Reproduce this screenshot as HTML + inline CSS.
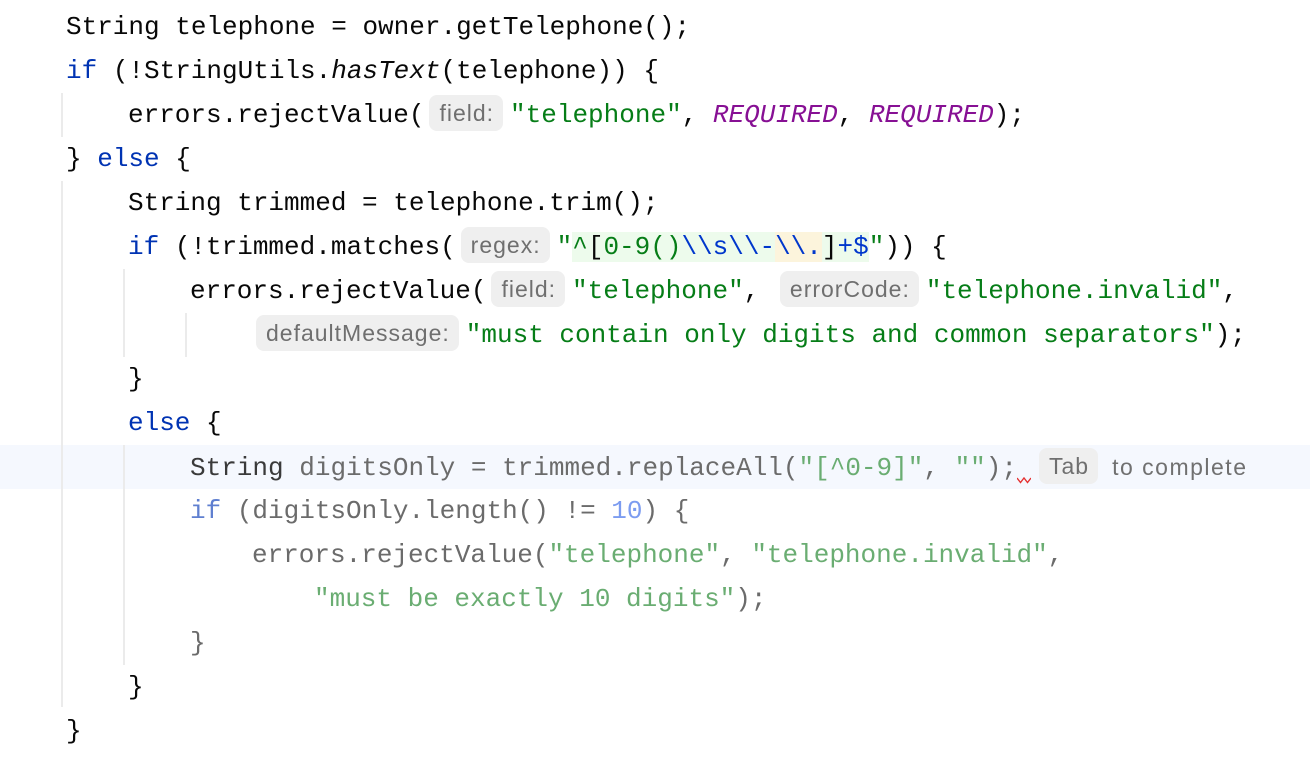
<!DOCTYPE html>
<html><head><meta charset="utf-8">
<style>
html,body{margin:0;padding:0;background:#fff;}
body{width:1310px;height:760px;position:relative;overflow:hidden;}
.l{position:absolute;left:0;height:44px;line-height:44px;white-space:pre;font-family:"Liberation Mono",monospace;font-size:26px;color:#080808;}
.k{color:#0033b3;}
.s{color:#067d17;}
.c{color:#871094;font-style:italic;}
.i{font-style:italic;}
.h{display:inline-block;font-family:"Liberation Sans",sans-serif;font-size:23px;letter-spacing:1px;color:#6f6f6f;background:#efefef;border-radius:8px;height:36px;line-height:36px;padding:0 9px 0 10px;margin:0 7px 0 5px;vertical-align:1px;}
.g{color:#6b6b6b;}
.gk{color:#5f7fd0;}
.gs{color:#6aad72;}
.gn{color:#7c9cf0;}
.rb{color:#0037cc;}
.vg{position:absolute;width:2px;background:#ebebeb;}
</style></head><body>
<div style="position:absolute;left:0;top:445px;width:1310px;height:44px;background:#f5f8fe;"></div>
<div class="vg" style="left:61px;top:93px;height:44px;"></div>
<div class="vg" style="left:61px;top:181px;height:526px;"></div>
<div class="vg" style="left:123px;top:269px;height:88px;"></div>
<div class="vg" style="left:123px;top:445px;height:220px;"></div>
<div class="vg" style="left:185px;top:313px;height:44px;"></div>

<div class="l" style="top:5px;left:66px;">String telephone = owner.getTelephone();</div>
<div class="l" style="top:49px;left:66px;"><span class="k">if</span> (!StringUtils.<span class="i">hasText</span>(telephone)) {</div>
<div class="l" style="top:93px;left:128px;">errors.rejectValue(<span class="h">field:</span><span class="s">"telephone"</span>, <span class="c">REQUIRED</span>, <span class="c">REQUIRED</span>);</div>
<div class="l" style="top:137px;left:66px;">} <span class="k">else</span> {</div>
<div class="l" style="top:181px;left:128px;">String trimmed = telephone.trim();</div>
<div class="l" style="top:225px;left:128px;"><span class="k">if</span> (!trimmed.matches(<span class="h">regex:</span><span class="s">"</span><span style="background:#edfbec;"><span class="s">^</span>[<span class="s">0-9()</span><span class="rb">\\s\\-</span><span class="rb" style="background:#fcf4dc;">\\.</span>]<span class="rb">+$</span></span><span class="s">"</span>)) {</div>
<div class="l" style="top:269px;left:190px;">errors.rejectValue(<span class="h">field:</span><span class="s">"telephone"</span>, <span class="h">errorCode:</span><span class="s">"telephone.invalid"</span>,</div>
<div class="l" style="top:313px;left:252px;"><span class="h" style="margin-left:4px;">defaultMessage:</span><span class="s">"must contain only digits and common separators"</span>);</div>
<div class="l" style="top:357px;left:128px;">}</div>
<div class="l" style="top:401px;left:128px;"><span class="k">else</span> {</div>
<div class="l" style="top:445px;left:190px;"><span style="color:#3a3a3a">String</span> <span class="g">digitsOnly = trimmed.replaceAll(</span><span class="gs">"[^0-9]"</span><span class="g">, </span><span class="gs">""</span><span class="g">);</span><span style="display:inline-block;width:22px;"></span><span class="h" style="margin:0 14px 0 0;">Tab</span><span style="font-family:'Liberation Sans',sans-serif;font-size:23px;letter-spacing:1.5px;color:#707070;">to complete</span></div>
<svg style="position:absolute;left:1017px;top:477px" width="14" height="7"><polyline points="0,1 3.5,5.5 7,1 10.5,5.5 14,1" fill="none" stroke="#e53030" stroke-width="1.4"/></svg>
<div class="l" style="top:489px;left:190px;"><span class="gk">if</span><span class="g"> (digitsOnly.length() != </span><span class="gn">10</span><span class="g">) {</span></div>
<div class="l" style="top:533px;left:252px;"><span class="g">errors.rejectValue(</span><span class="gs">"telephone"</span><span class="g">, </span><span class="gs">"telephone.invalid"</span><span class="g">,</span></div>
<div class="l" style="top:577px;left:314px;"><span class="gs">"must be exactly 10 digits"</span><span class="g">);</span></div>
<div class="l" style="top:621px;left:190px;"><span class="g">}</span></div>
<div class="l" style="top:665px;left:128px;">}</div>
<div class="l" style="top:709px;left:66px;">}</div>
</body></html>
